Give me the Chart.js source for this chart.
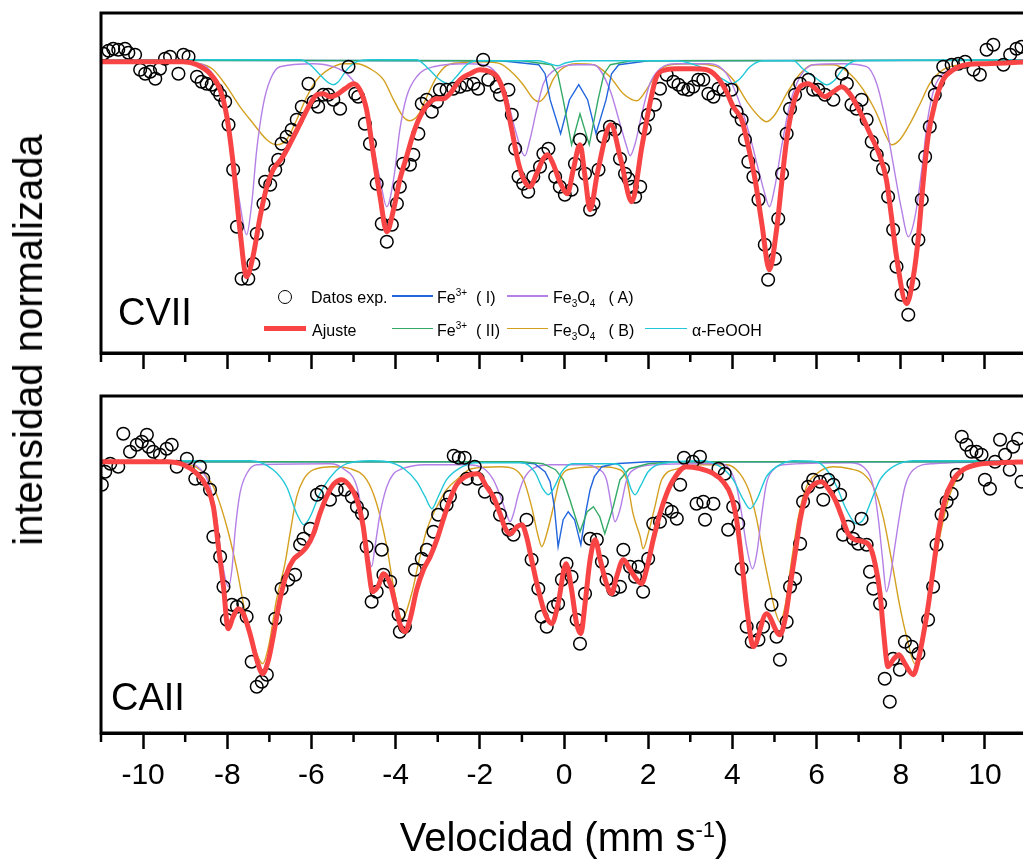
<!DOCTYPE html>
<html lang="es">
<head>
<meta charset="utf-8">
<title>Espectros Mössbauer CVII y CAII</title>
<script src="https://cdn.jsdelivr.net/npm/chart.js@4.4.1/dist/chart.umd.min.js"></script>
<style>
html,body{margin:0;padding:0;background:#fff;overflow:hidden;}
body{width:1023px;height:861px;position:relative;font-family:"Liberation Sans",Arial,sans-serif;color:#000;}
#cTop{position:absolute;left:0;top:0;}
#cBot{position:absolute;left:0;top:380px;}
.t{position:absolute;white-space:nowrap;line-height:1;z-index:5;}
.lg{font-size:16px;}
.sw{position:absolute;z-index:5;}
.sup{font-size:10px;position:relative;top:-7px;}
.sub{font-size:10px;position:relative;top:4px;}
</style>
</head>
<body>
<canvas id="cTop" width="1060" height="400"></canvas>
<canvas id="cBot" width="1060" height="481"></canvas>

<div class="t" style="left:28px;top:340px;font-size:40px;transform:translate(-50%,-50%) rotate(-90deg);">intensidad normalizada</div>
<div class="t" style="left:564px;top:817px;font-size:40px;transform:translateX(-50%);">Velocidad (mm s<span style="font-size:22px;position:relative;top:-14px;">-1</span>)</div>
<div class="t" style="left:118px;top:293px;font-size:38px;">CVII</div>
<div class="t" style="left:111px;top:678px;font-size:38px;">CAII</div>

<!-- legend -->
<div class="sw" style="left:278px;top:289.5px;width:12px;height:12px;border:1.5px solid #000;border-radius:50%;"></div>
<div class="t lg" style="left:311px;top:290px;">Datos exp.</div>
<div class="sw" style="left:392px;top:295.3px;width:41px;height:1.5px;background:#2266dd;"></div>
<div class="t lg" style="left:437px;top:290px;">Fe<span class="sup">3+</span>&nbsp; ( I)</div>
<div class="sw" style="left:507px;top:295.3px;width:41px;height:1.5px;background:#b580e6;"></div>
<div class="t lg" style="left:553px;top:290px;">Fe<span class="sub">3</span>O<span class="sub">4</span>&nbsp;&nbsp; ( A)</div>

<div class="sw" style="left:264px;top:326px;width:42px;height:5px;background:#f84444;"></div>
<div class="t lg" style="left:312px;top:322.5px;">Ajuste</div>
<div class="sw" style="left:392px;top:327.8px;width:41px;height:1.5px;background:#33aa66;"></div>
<div class="t lg" style="left:437px;top:322.5px;">Fe<span class="sup">3+</span>&nbsp; ( II)</div>
<div class="sw" style="left:507px;top:327.8px;width:41px;height:1.5px;background:#d4a020;"></div>
<div class="t lg" style="left:553px;top:322.5px;">Fe<span class="sub">3</span>O<span class="sub">4</span>&nbsp;&nbsp; ( B)</div>
<div class="sw" style="left:645px;top:327.8px;width:42px;height:1.5px;background:#22c8d8;"></div>
<div class="t lg" style="left:692px;top:322.5px;">α-FeOOH</div>

<script>
// ---------- axis values ----------
const velocityMin = -11;
const velocityMax = 11;
const minorTickValues = [-11, -9, -7, -5, -3, -1, 1, 3, 5, 7, 9, 11];

// ---------- CVII (upper panel) : [velocity mm/s, relative transmission %] ----------
const cviiExp = [[-10.94,100.08],[-10.82,100.11],[-10.71,100.13],[-10.59,100.12],[-10.43,100.13],[-10.35,100.09],[-10.19,100.07],[-10.07,99.92],[-9.95,99.88],[-9.83,99.90],[-9.71,99.83],[-9.60,99.93],[-9.48,100.03],[-9.36,100.05],[-9.16,99.88],[-9.04,100.07],[-8.92,100.05],[-8.72,99.85],[-8.61,99.80],[-8.49,99.78],[-8.37,99.77],[-8.25,99.72],[-8.17,99.67],[-8.05,99.60],[-7.97,99.37],[-7.86,98.92],[-7.77,98.35],[-7.66,97.83],[-7.50,97.83],[-7.38,97.98],[-7.30,98.28],[-7.14,98.58],[-7.10,98.80],[-6.98,98.77],[-6.86,98.92],[-6.79,99.02],[-6.71,99.18],[-6.59,99.25],[-6.47,99.32],[-6.35,99.42],[-6.23,99.55],[-6.07,99.78],[-5.95,99.60],[-5.84,99.55],[-5.72,99.67],[-5.60,99.67],[-5.48,99.62],[-5.32,99.53],[-5.12,99.95],[-4.96,99.68],[-4.89,99.65],[-4.73,99.38],[-4.61,99.18],[-4.45,98.78],[-4.33,98.38],[-4.21,98.20],[-4.09,98.37],[-3.97,98.58],[-3.90,98.75],[-3.82,98.98],[-3.66,98.97],[-3.58,99.07],[-3.46,99.28],[-3.38,99.58],[-3.26,99.62],[-3.14,99.50],[-3.02,99.60],[-2.95,99.72],[-2.79,99.72],[-2.63,99.73],[-2.47,99.75],[-2.31,99.77],[-2.15,99.78],[-2.04,99.73],[-1.92,100.02],[-1.80,99.82],[-1.60,99.75],[-1.52,99.67],[-1.32,99.72],[-1.24,99.47],[-1.16,99.13],[-1.08,98.85],[-0.97,98.78],[-0.85,98.70],[-0.73,98.85],[-0.57,98.95],[-0.49,99.08],[-0.37,99.13],[-0.21,98.85],[-0.10,98.75],[0.02,98.67],[0.18,98.72],[0.26,98.98],[0.38,99.22],[0.50,98.88],[0.62,98.52],[0.70,98.58],[0.82,98.92],[0.93,99.25],[1.09,99.35],[1.21,99.32],[1.33,99.03],[1.45,98.88],[1.53,98.83],[1.61,98.75],[1.69,98.65],[1.81,98.75],[1.92,99.33],[2.00,99.47],[2.16,99.57],[2.28,99.73],[2.44,99.87],[2.60,99.80],[2.72,99.77],[2.83,99.73],[2.95,99.72],[3.07,99.75],[3.19,99.82],[3.31,99.82],[3.43,99.68],[3.55,99.65],[3.67,99.73],[3.79,99.72],[3.98,99.72],[4.10,99.50],[4.22,99.42],[4.30,99.22],[4.38,99.00],[4.50,98.85],[4.62,98.62],[4.77,98.17],[4.85,97.82],[5.01,98.03],[5.09,98.43],[5.18,98.88],[5.29,99.28],[5.37,99.53],[5.49,99.67],[5.61,99.78],[5.81,99.82],[5.92,99.72],[6.04,99.72],[6.20,99.67],[6.40,99.62],[6.60,99.88],[6.72,99.78],[6.83,99.57],[6.95,99.53],[7.07,99.62],[7.19,99.42],[7.31,99.20],[7.43,99.07],[7.58,98.93],[7.70,98.65],[7.82,98.32],[7.90,97.95],[8.02,97.67],[8.18,97.47],[8.30,97.78],[8.42,98.22],[8.50,98.62],[8.58,99.05],[8.69,99.35],[8.81,99.67],[8.89,99.80],[9.01,99.95],[9.21,99.97],[9.37,99.98],[9.53,100.00],[9.73,99.92],[9.88,99.87],[10.04,100.12],[10.20,100.17],[10.44,99.97],[10.60,100.07],[10.75,100.13],[10.87,100.15]];

const cviiFit = [[-11.0,100.0],[-9.04,100.0],[-8.72,99.97],[-8.41,99.88],[-8.17,99.72],[-8.01,99.45],[-7.86,98.98],[-7.70,98.32],[-7.54,97.85],[-7.39,98.05],[-7.22,98.45],[-7.06,98.75],[-6.91,98.92],[-6.71,99.03],[-6.51,99.18],[-6.27,99.38],[-6.03,99.58],[-5.87,99.67],[-5.72,99.68],[-5.56,99.65],[-5.40,99.67],[-5.20,99.73],[-5.00,99.78],[-4.85,99.72],[-4.69,99.52],[-4.53,99.08],[-4.37,98.65],[-4.21,98.30],[-4.05,98.52],[-3.90,98.82],[-3.74,99.05],[-3.58,99.28],[-3.42,99.45],[-3.22,99.58],[-3.02,99.63],[-2.87,99.63],[-2.71,99.68],[-2.47,99.82],[-2.23,99.88],[-2.00,99.92],[-1.76,99.90],[-1.56,99.83],[-1.40,99.65],[-1.24,99.32],[-1.08,98.98],[-0.93,98.80],[-0.81,98.75],[-0.65,98.88],[-0.49,99.03],[-0.39,99.07],[-0.26,98.98],[-0.10,98.80],[0.08,98.68],[0.22,98.92],[0.38,99.17],[0.50,98.85],[0.62,98.52],[0.80,98.90],[1.11,99.37],[1.35,99.02],[1.61,98.60],[1.85,99.15],[2.04,99.58],[2.20,99.85],[2.44,99.92],[2.68,99.93],[3.07,99.93],[3.39,99.92],[3.63,99.85],[3.86,99.70],[4.02,99.55],[4.22,99.42],[4.38,99.15],[4.54,98.82],[4.70,98.38],[4.88,97.92],[5.05,98.32],[5.17,98.78],[5.29,99.22],[5.45,99.58],[5.61,99.75],[5.80,99.78],[6.00,99.72],[6.20,99.65],[6.40,99.70],[6.60,99.75],[6.79,99.68],[7.03,99.50],[7.27,99.28],[7.51,99.05],[7.66,98.82],[7.78,98.45],[7.90,98.05],[8.14,97.58],[8.30,97.85],[8.42,98.25],[8.53,98.78],[8.65,99.25],[8.81,99.58],[9.01,99.82],[9.25,99.92],[9.57,99.97],[10.04,99.98],[11.0,100.0]];

const cviiFe3I = [[-11.0,100.015],[-1.5,100.01],[-0.6,99.97],[-0.45,99.88],[-0.33,99.62],[-0.08,99.28],[0.13,99.62],[0.35,99.77],[0.56,99.62],[0.76,99.28],[1.00,99.62],[1.13,99.88],[1.3,99.97],[2.0,100.01],[11.0,100.015]];
const cviiFe3II = [[-11.0,100.015],[-1.0,100.01],[-0.3,99.97],[-0.15,99.88],[-0.02,99.62],[0.18,99.17],[0.38,99.48],[0.60,99.17],[0.81,99.62],[0.95,99.88],[1.1,99.97],[1.6,100.01],[11.0,100.015]];
const cviiFe3O4A = [[-11.0,100.01],[-8.65,99.98],[-8.26,99.82],[-8.05,99.58],[-7.86,99.05],[-7.70,98.58],[-7.54,98.27],[-7.42,98.58],[-7.30,99.12],[-7.14,99.58],[-6.98,99.82],[-6.75,99.95],[-5.95,99.98],[-5.48,99.95],[-5.16,99.88],[-4.92,99.75],[-4.69,99.48],[-4.53,99.15],[-4.37,98.82],[-4.21,98.55],[-4.05,98.82],[-3.90,99.32],[-3.74,99.65],[-3.50,99.85],[-3.10,99.95],[-2.31,99.98],[-1.92,99.97],[-1.60,99.88],[-1.36,99.65],[-1.16,99.32],[-0.93,99.06],[-0.81,99.22],[-0.65,99.52],[-0.49,99.78],[-0.33,99.88],[-0.05,99.95],[0.30,99.97],[0.70,99.97],[1.09,99.72],[1.33,99.38],[1.49,99.15],[1.57,99.06],[1.69,99.18],[1.85,99.48],[2.04,99.78],[2.28,99.93],[2.68,99.98],[3.47,99.98],[3.86,99.88],[4.18,99.58],[4.42,99.25],[4.62,98.92],[4.77,98.68],[4.88,98.55],[5.01,98.75],[5.17,99.15],[5.37,99.58],[5.61,99.85],[5.92,99.97],[6.63,99.98],[7.19,99.95],[7.43,99.78],[7.62,99.45],[7.82,98.98],[8.02,98.52],[8.18,98.25],[8.34,98.45],[8.50,98.92],[8.65,99.45],[8.81,99.75],[9.01,99.88],[9.41,99.95],[10.20,99.98],[11.0,100.01]];
const cviiFe3O4B = [[-11.0,100.0],[-9.44,100.0],[-8.65,99.98],[-8.33,99.92],[-8.01,99.75],[-7.70,99.55],[-7.38,99.38],[-7.06,99.22],[-6.83,99.17],[-6.59,99.22],[-6.35,99.42],[-6.11,99.65],[-5.87,99.82],[-5.56,99.93],[-5.24,99.98],[-4.92,99.98],[-4.61,99.93],[-4.29,99.82],[-4.05,99.62],[-3.82,99.45],[-3.66,99.41],[-3.46,99.47],[-3.26,99.65],[-3.02,99.85],[-2.79,99.96],[-2.47,99.99],[-1.92,100.0],[-1.52,99.98],[-1.20,99.88],[-0.97,99.77],[-0.73,99.63],[-0.59,99.60],[-0.41,99.68],[-0.26,99.82],[-0.05,99.93],[0.30,99.98],[0.70,99.97],[1.09,99.85],[1.41,99.68],[1.73,99.61],[1.96,99.72],[2.20,99.88],[2.52,99.97],[3.07,99.98],[3.63,99.95],[4.02,99.82],[4.38,99.58],[4.66,99.44],[4.81,99.40],[5.01,99.47],[5.29,99.68],[5.61,99.88],[5.92,99.97],[6.40,99.97],[6.79,99.88],[7.11,99.72],[7.43,99.48],[7.66,99.25],[7.78,99.17],[7.98,99.22],[8.22,99.38],[8.46,99.58],[8.69,99.78],[9.01,99.92],[9.41,99.97],[10.20,99.99],[11.0,100.0]];
const cviiGoethite = [[-11.0,100.02],[-6.27,100.02],[-6.03,99.97],[-5.80,99.87],[-5.60,99.79],[-5.48,99.77],[-5.36,99.80],[-5.16,99.92],[-4.92,100.0],[-4.6,100.02],[-3.50,100.02],[-3.22,99.93],[-2.98,99.83],[-2.75,99.78],[-2.56,99.85],[-2.31,99.97],[-2.07,100.01],[-0.6,100.01],[-0.35,99.98],[-0.15,99.96],[0.05,99.99],[0.4,100.01],[2.68,100.01],[3.23,99.95],[3.55,99.88],[3.79,99.82],[3.98,99.78],[4.18,99.83],[4.42,99.95],[4.73,100.01],[5.45,100.01],[5.67,99.93],[6.00,99.83],[6.24,99.77],[6.44,99.82],[6.63,99.93],[6.95,100.01],[11.0,100.02]];

// ---------- CAII (lower panel) ----------
const caiiExp = [[-10.98,99.77],[-10.90,99.90],[-10.78,99.98],[-10.59,99.95],[-10.47,100.28],[-10.31,100.10],[-10.15,100.17],[-10.03,100.20],[-9.91,100.27],[-9.87,100.15],[-9.76,100.10],[-9.60,100.07],[-9.44,100.13],[-9.32,100.17],[-9.20,99.95],[-8.96,100.03],[-8.76,99.83],[-8.65,99.95],[-8.57,99.83],[-8.41,99.72],[-8.33,99.25],[-8.17,99.05],[-8.09,98.75],[-8.01,98.42],[-7.89,98.57],[-7.77,98.55],[-7.62,98.58],[-7.54,98.45],[-7.42,98.00],[-7.30,97.75],[-7.18,97.80],[-7.06,97.87],[-6.86,98.43],[-6.71,98.73],[-6.55,98.82],[-6.39,98.87],[-6.27,99.17],[-6.19,99.23],[-6.03,99.33],[-5.87,99.67],[-5.76,99.70],[-5.56,99.62],[-5.40,99.72],[-5.20,99.72],[-5.04,99.65],[-4.92,99.55],[-4.80,99.48],[-4.69,99.15],[-4.57,98.60],[-4.45,98.70],[-4.33,99.12],[-4.29,98.87],[-4.13,98.80],[-3.93,98.47],[-3.90,98.30],[-3.78,98.35],[-3.54,98.92],[-3.38,99.03],[-3.26,99.12],[-3.10,99.30],[-2.99,99.47],[-2.79,99.57],[-2.71,99.65],[-2.62,100.06],[-2.50,100.04],[-2.36,100.04],[-2.31,99.83],[-2.12,99.95],[-2.05,99.83],[-1.88,99.70],[-1.60,99.63],[-1.52,99.47],[-1.32,99.32],[-1.20,99.27],[-0.89,99.42],[-0.77,99.02],[-0.61,98.73],[-0.53,98.45],[-0.41,98.35],[-0.25,98.55],[-0.14,98.58],[-0.05,98.82],[0.06,98.98],[0.18,98.85],[0.30,98.42],[0.38,98.18],[0.50,98.68],[0.62,99.23],[0.78,99.22],[0.90,99.00],[1.01,98.82],[1.17,98.72],[1.33,98.75],[1.41,99.12],[1.57,98.95],[1.69,98.85],[1.77,98.95],[1.88,98.70],[2.00,99.03],[2.12,99.38],[2.28,99.40],[2.44,99.53],[2.56,99.50],[2.68,99.43],[2.76,99.77],[2.85,100.04],[3.06,100.00],[3.15,99.58],[3.23,100.05],[3.31,99.60],[3.35,99.42],[3.55,99.58],[3.67,99.93],[3.82,99.88],[3.90,99.32],[4.02,99.55],[4.14,99.38],[4.22,98.93],[4.34,98.35],[4.46,98.20],[4.62,98.22],[4.73,98.35],[4.93,98.57],[5.05,98.25],[5.13,98.02],[5.29,98.40],[5.37,98.75],[5.49,98.83],[5.61,99.18],[5.68,99.60],[5.80,99.75],[5.92,99.82],[6.08,99.80],[6.16,99.62],[6.28,99.82],[6.40,99.77],[6.56,99.67],[6.63,99.27],[6.75,99.35],[6.87,99.23],[6.99,99.18],[7.07,99.43],[7.19,99.17],[7.27,98.90],[7.35,98.73],[7.51,98.58],[7.62,97.83],[7.74,97.60],[7.82,98.03],[7.98,97.92],[8.10,98.20],[8.26,98.15],[8.42,98.08],[8.65,98.42],[8.77,98.75],[8.85,99.17],[8.97,99.47],[9.09,99.60],[9.21,99.68],[9.33,99.87],[9.45,100.25],[9.56,100.17],[9.68,100.10],[9.80,100.10],[9.92,100.07],[10.00,99.82],[10.12,99.73],[10.24,100.00],[10.36,100.22],[10.48,100.07],[10.59,99.92],[10.67,100.15],[10.79,100.23],[10.87,99.80]];

const caiiFit = [[-11.0,100.0],[-9.44,100.0],[-9.04,99.97],[-8.72,99.88],[-8.49,99.75],[-8.33,99.55],[-8.21,99.15],[-8.09,98.75],[-7.98,98.33],[-7.86,98.45],[-7.74,98.53],[-7.62,98.48],[-7.46,98.28],[-7.30,98.02],[-7.16,97.88],[-7.02,98.02],[-6.91,98.25],[-6.75,98.62],[-6.59,98.88],[-6.43,99.02],[-6.27,99.08],[-6.11,99.15],[-5.95,99.28],[-5.80,99.48],[-5.64,99.65],[-5.48,99.77],[-5.28,99.82],[-5.08,99.75],[-4.92,99.62],[-4.77,99.35],[-4.65,98.95],[-4.55,98.70],[-4.41,98.76],[-4.29,98.88],[-4.13,98.78],[-4.01,98.58],[-3.90,98.38],[-3.78,98.30],[-3.66,98.42],[-3.50,98.72],[-3.34,98.92],[-3.18,99.05],[-3.02,99.22],[-2.87,99.42],[-2.71,99.62],[-2.55,99.77],[-2.30,99.86],[-2.05,99.88],[-1.84,99.75],[-1.68,99.65],[-1.52,99.48],[-1.38,99.32],[-1.27,99.28],[-1.12,99.35],[-1.00,99.37],[-0.89,99.25],[-0.77,99.02],[-0.61,98.72],[-0.45,98.48],[-0.29,98.38],[-0.14,98.58],[0.05,98.98],[0.18,98.72],[0.30,98.38],[0.40,98.28],[0.50,98.58],[0.62,99.02],[0.74,99.22],[0.86,99.02],[1.01,98.78],[1.13,98.68],[1.25,98.85],[1.41,99.02],[1.57,98.92],[1.73,98.82],[1.84,98.78],[1.96,98.92],[2.12,99.22],[2.28,99.48],[2.44,99.68],[2.60,99.82],[2.90,99.95],[3.23,99.93],[3.55,99.88],[3.78,99.80],[3.98,99.65],[4.10,99.42],[4.22,99.02],[4.34,98.55],[4.50,98.15],[4.81,98.48],[5.13,98.27],[5.25,98.42],[5.37,98.75],[5.49,99.08],[5.61,99.42],[5.76,99.67],[5.96,99.78],[6.12,99.80],[6.28,99.73],[6.44,99.62],[6.60,99.45],[6.75,99.28],[6.91,99.22],[7.11,99.20],[7.27,99.15],[7.39,98.98],[7.51,98.68],[7.58,98.35],[7.70,97.95],[7.82,98.02],[7.96,98.07],[8.10,97.98],[8.30,97.87],[8.42,98.02],[8.53,98.25],[8.65,98.55],[8.77,98.92],[8.89,99.28],[9.05,99.62],[9.25,99.82],[9.48,99.92],[9.80,99.97],[10.36,99.99],[11.0,100.0]];

const caiiFe3I = [[-11.0,100.0],[-1.2,100.0],[-0.7,99.98],[-0.45,99.90],[-0.33,99.80],[-0.23,99.55],[-0.14,99.15],[-0.02,99.42],[0.10,99.50],[0.25,99.42],[0.40,99.17],[0.52,99.50],[0.62,99.72],[0.72,99.85],[0.9,99.95],[1.2,99.98],[2.0,100.0],[11.0,100.0]];
const caiiFe3II = [[-11.0,100.0],[-1.0,100.0],[-0.5,99.98],[-0.2,99.92],[-0.02,99.82],[0.14,99.62],[0.38,99.30],[0.55,99.50],[0.70,99.55],[0.85,99.45],[0.97,99.28],[1.17,99.55],[1.33,99.82],[1.55,99.93],[2.0,99.98],[2.6,100.0],[11.0,100.0]];
const caiiFe3O4A = [[-11.0,100.0],[-9.04,99.99],[-8.65,99.93],[-8.41,99.75],[-8.25,99.42],[-8.13,99.02],[-7.97,98.75],[-7.89,98.92],[-7.81,99.32],[-7.70,99.68],[-7.54,99.88],[-7.30,99.97],[-5.56,99.98],[-5.24,99.93],[-4.92,99.75],[-4.77,99.42],[-4.65,99.08],[-4.57,98.95],[-4.49,99.15],[-4.37,99.48],[-4.21,99.75],[-4.05,99.88],[-3.90,99.92],[-3.3,99.97],[-2.3,99.97],[-1.9,99.93],[-1.68,99.82],[-1.48,99.62],[-1.36,99.47],[-1.28,99.40],[-1.20,99.48],[-1.08,99.68],[-0.96,99.82],[-0.75,99.93],[-0.3,99.97],[0.5,99.97],[0.8,99.93],[1.01,99.82],[1.13,99.55],[1.21,99.40],[1.33,99.52],[1.49,99.82],[1.7,99.93],[2.2,99.97],[3.23,99.98],[3.71,99.98],[3.94,99.92],[4.10,99.75],[4.22,99.48],[4.34,99.15],[4.48,98.93],[4.58,99.08],[4.70,99.48],[4.81,99.78],[4.97,99.92],[5.21,99.97],[6.79,99.99],[7.11,99.95],[7.35,99.75],[7.47,99.42],[7.57,99.02],[7.66,98.70],[7.74,98.82],[7.86,99.15],[7.98,99.48],[8.10,99.75],[8.30,99.92],[8.77,99.98],[11.0,100.0]];
const caiiFe3O4B = [[-11.0,100.0],[-9.04,99.98],[-8.65,99.92],[-8.33,99.75],[-8.01,99.35],[-7.77,98.92],[-7.54,98.42],[-7.30,98.08],[-7.16,97.98],[-7.02,98.15],[-6.83,98.62],[-6.63,98.98],[-6.51,99.28],[-6.35,99.65],[-6.19,99.82],[-5.95,99.92],[-5.48,99.95],[-5.08,99.93],[-4.69,99.82],[-4.45,99.58],[-4.21,99.15],[-4.05,98.75],[-3.85,98.43],[-3.62,98.68],[-3.46,98.98],[-3.26,99.32],[-3.02,99.55],[-2.79,99.72],[-2.55,99.82],[-2.2,99.93],[-1.5,99.95],[-1.2,99.93],[-0.96,99.82],[-0.77,99.55],[-0.61,99.25],[-0.53,99.15],[-0.41,99.28],[-0.25,99.55],[-0.10,99.82],[0.2,99.93],[0.9,99.95],[1.25,99.93],[1.49,99.82],[1.64,99.48],[1.81,99.25],[1.88,99.13],[2.00,99.28],[2.16,99.55],[2.32,99.82],[2.7,99.93],[3.3,99.97],[3.86,99.97],[4.18,99.88],[4.42,99.68],[4.58,99.42],[4.73,99.08],[4.89,98.75],[5.01,98.52],[5.13,98.40],[5.25,98.55],[5.41,99.02],[5.57,99.45],[5.76,99.75],[6.00,99.88],[6.40,99.95],[6.79,99.93],[7.11,99.88],[7.35,99.75],[7.58,99.45],[7.78,99.02],[7.98,98.55],[8.14,98.25],[8.34,97.98],[8.46,98.12],[8.62,98.45],[8.77,98.85],[8.93,99.25],[9.13,99.62],[9.37,99.85],[9.73,99.95],[10.20,99.99],[11.0,100.0]];
const caiiGoethite = [[-11.0,100.01],[-7.46,100.01],[-6.91,99.92],[-6.59,99.75],[-6.35,99.48],[-6.18,99.37],[-6.03,99.45],[-5.80,99.68],[-5.48,99.88],[-5.16,99.98],[-4.6,100.01],[-4.2,100.0],[-3.8,99.93],[-3.50,99.80],[-3.30,99.65],[-3.14,99.53],[-2.99,99.65],[-2.79,99.82],[-2.5,99.93],[-2.1,99.99],[-1.0,99.99],[-0.7,99.90],[-0.49,99.72],[-0.37,99.67],[-0.25,99.73],[-0.05,99.90],[0.2,99.98],[1.2,99.98],[1.45,99.90],[1.60,99.72],[1.69,99.67],[1.81,99.75],[2.0,99.90],[2.3,99.98],[3.3,100.01],[3.71,99.95],[4.02,99.82],[4.26,99.62],[4.42,99.53],[4.58,99.62],[4.81,99.85],[5.05,99.95],[5.45,100.01],[6.00,100.0],[6.24,99.92],[6.48,99.75],[6.71,99.52],[6.95,99.38],[7.11,99.42],[7.27,99.58],[7.51,99.82],[7.82,99.95],[8.30,100.01],[11.0,100.01]];

// ---------- styling ----------
const COLORS = {
  exp: '#000000', fit: '#f84444', fe3I: '#2266dd', fe3II: '#33aa66',
  a: '#b580e6', b: '#d4a020', goe: '#22c8d8'
};
const FONT = '"Liberation Sans", Arial, sans-serif';

const xy = arr => arr.map(p => ({x: p[0], y: p[1]}));

function curve(label, arr, color, width, order, smooth) {
  return {
    label, data: xy(arr), borderColor: color, backgroundColor: color,
    borderWidth: width, pointRadius: 0, fill: false, order,
    cubicInterpolationMode: smooth ? 'monotone' : 'default', tension: 0
  };
}

// lower index within the same order is painted on top
function datasetsFor(p) {
  return [
    curve('α-FeOOH', p.goe, COLORS.goe, 1.4, 3, true),
    curve('Fe3+ (II)', p.fe3II, COLORS.fe3II, 1.4, 3, false),
    curve('Fe3+ (I)', p.fe3I, COLORS.fe3I, 1.4, 3, false),
    curve('Fe3O4 (A)', p.a, COLORS.a, 1.4, 3, true),
    curve('Fe3O4 (B)', p.b, COLORS.b, 1.4, 3, true),
    {
      label: 'Datos exp.', data: xy(p.exp), showLine: false,
      pointStyle: 'circle', pointRadius: 6.3, pointBorderWidth: 1.5,
      pointBorderColor: COLORS.exp, pointBackgroundColor: 'rgba(255,255,255,0)',
      borderColor: COLORS.exp, order: 1
    },
    curve('Ajuste', p.fit, COLORS.fit, 5, 0, true)
  ];
}

const framePlugin = {
  id: 'frame',
  afterDatasetsDraw(chart) {
    const {ctx, chartArea: a} = chart;
    const xs = chart.scales.x;
    ctx.save();
    ctx.strokeStyle = '#000';
    ctx.lineWidth = 3;
    ctx.strokeRect(a.left, a.top, a.right - a.left, a.bottom - a.top);
    ctx.lineWidth = 2.5;
    minorTickValues.forEach(v => {
      const px = xs.getPixelForValue(v);
      ctx.beginPath();
      ctx.moveTo(px, a.bottom);
      ctx.lineTo(px, a.bottom + 9);
      ctx.stroke();
    });
    ctx.restore();
  }
};

function makeChart(id, p) {
  return new Chart(document.getElementById(id), {
    type: 'line',
    data: { datasets: datasetsFor(p) },
    options: {
      responsive: false, animation: false, devicePixelRatio: 1, events: [],
      layout: { padding: { left: 101, right: 33, top: p.padTop, bottom: 0 } },
      plugins: { legend: { display: false }, tooltip: { enabled: false } },
      scales: {
        x: {
          type: 'linear', position: 'bottom', min: velocityMin, max: velocityMax,
          afterFit: s => { s.height = p.axisH; },
          grid: {
            display: true, drawOnChartArea: false, drawTicks: true, tickLength: 16, tickWidth: 2.5,
            color: 'rgba(0,0,0,0)',
            tickColor: c => (c.tick && Math.abs(c.tick.value) % 2 === 0) ? '#000' : 'rgba(0,0,0,0)'
          },
          border: { display: true, color: '#000', width: 3 },
          ticks: {
            display: p.labels, stepSize: 1, autoSkip: false, maxRotation: 0, minRotation: 0,
            padding: 9, color: '#000', font: { family: FONT, size: 30 },
            callback: v => (Math.abs(v) % 2 === 0 ? String(v) : '')
          }
        },
        y: { type: 'linear', display: false, min: p.ymin, max: p.ymax }
      }
    },
    plugins: [framePlugin]
  });
}

makeChart('cTop', {
  exp: cviiExp, fit: cviiFit, fe3I: cviiFe3I, fe3II: cviiFe3II, a: cviiFe3O4A, b: cviiFe3O4B, goe: cviiGoethite,
  padTop: 13, axisH: 47, labels: false, ymin: 97.087, ymax: 100.487
});
makeChart('cBot', {
  exp: caiiExp, fit: caiiFit, fe3I: caiiFe3I, fe3II: caiiFe3II, a: caiiFe3O4A, b: caiiFe3O4B, goe: caiiGoethite,
  padTop: 16, axisH: 128, labels: true, ymin: 97.287, ymax: 100.657
});
</script>
</body>
</html>
